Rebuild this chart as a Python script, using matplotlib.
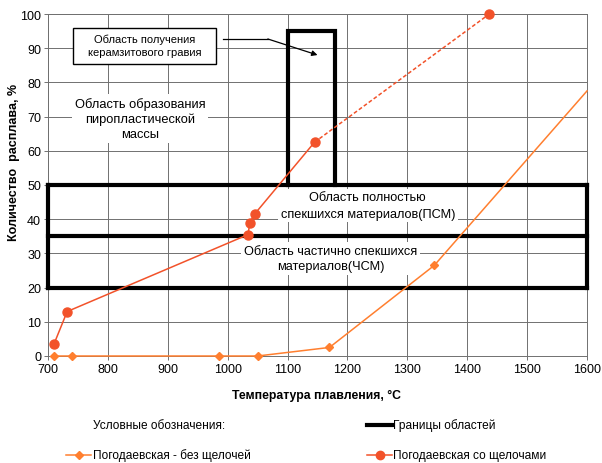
import matplotlib
matplotlib.use("Agg")
import matplotlib.pyplot as plt
from matplotlib.lines import Line2D
from matplotlib.patches import Rectangle

plt.rcParams['font.family'] = ['Liberation Sans', 'DejaVu Sans']

# Melt fraction vs. melting temperature
t_no_alkali = [710, 740, 985, 1050, 1170, 1345, 1600]
melt_no_alkali = [0, 0, 0, 0, 2.5, 26.5, 77.5]

t_alkali = [710, 732, 1034, 1037, 1045, 1145, 1437]
melt_alkali = [3.5, 13, 35.5, 39, 41.5, 62.5, 100]

# Region boundaries
band_t = [700, 1600]
band_levels = [20, 35, 50]
gravel_t = [1100, 1180]
gravel_top = 95

x_ticks = [700, 800, 900, 1000, 1100, 1200, 1300, 1400, 1500, 1600]
y_ticks = [0, 10, 20, 30, 40, 50, 60, 70, 80, 90, 100]

c_no = '#FF7F2F'
c_with = '#F2522A'
grid_c = '#707070'

W, H = 602, 464
fig = plt.figure(figsize=(W / 100, H / 100), dpi=100)
ax = fig.add_axes([48 / W, 1 - 357 / H, (587 - 48) / W, (357 - 15) / H])

ax.set_xlim(700, 1600)
ax.set_ylim(0, 100)
ax.set_xticks(x_ticks)
ax.set_yticks(y_ticks)
ax.tick_params(labelsize=9, length=3, color=grid_c, width=0.7, pad=2)
ax.grid(True, color=grid_c, lw=0.7, zorder=0)
ax.set_axisbelow(True)
for s in ax.spines.values():
    s.set_color(grid_c)
    s.set_linewidth(0.7)

ax.set_xlabel('Температура плавления, °С', fontsize=8.8, fontweight='bold')
ax.xaxis.set_label_coords(0.499, -0.095)
ax.set_ylabel('Количество  расплава, %', fontsize=9, fontweight='bold')
ax.yaxis.set_label_coords(-0.052, 0.57)

# Thick region borders
bk = dict(color='black', lw=3, solid_capstyle='projecting', zorder=4, clip_on=False)
for lvl in band_levels:
    ax.plot(band_t, [lvl, lvl], **bk)
ax.plot([band_t[0], band_t[0]], [band_levels[0], band_levels[-1]], **bk)
ax.plot([band_t[1], band_t[1]], [band_levels[0], band_levels[-1]], **bk)
ax.plot([gravel_t[0], gravel_t[0], gravel_t[1], gravel_t[1]],
        [band_levels[-1], gravel_top, gravel_top, band_levels[-1]],
        color='black', lw=3, solid_joinstyle='miter', zorder=4)

# Region captions
wb = dict(facecolor='white', edgecolor='none', pad=2)
ax.text(854, 69.5, 'Область образования\nпиропластической\nмассы', ha='center', va='center',
        fontsize=9.3, linespacing=1.3, bbox=wb, zorder=3)
ax.text(1234, 44, 'Область полностью\nспекшихся материалов(ПСМ)', ha='center', va='center',
        fontsize=9.2, linespacing=1.45, bbox=wb, zorder=3)
ax.text(1172, 28.5, 'Область частично спекшихся\nматериалов(ЧСМ)', ha='center', va='center',
        fontsize=9.2, linespacing=1.35, bbox=wb, zorder=3)

ax.add_patch(Rectangle((742, 85.4), 238.5, 10.5, facecolor='white', edgecolor='black',
                       lw=1, zorder=5))
ax.text(861, 90.8, 'Область получения\nкерамзитового гравия', ha='center', va='center',
        fontsize=8, linespacing=1.4, zorder=6)
ax.plot([993, 1067], [92.7, 92.7], color='black', lw=0.9, zorder=5)
ax.annotate('', xy=(1150, 88.0), xytext=(1067, 92.7),
            arrowprops=dict(arrowstyle='-|>', color='black', lw=0.9,
                            mutation_scale=8, shrinkA=0, shrinkB=0), zorder=5)

# Series
ax.plot(t_no_alkali, melt_no_alkali, color=c_no, lw=1.1, marker='D', ms=4,
        markevery=list(range(len(t_no_alkali) - 1)), zorder=6, clip_on=False)
ax.plot(t_alkali[:-1], melt_alkali[:-1], color=c_with, lw=1.1, zorder=6)
ax.plot(t_alkali[-2:], melt_alkali[-2:], color=c_with, lw=1.1, ls=(0, (2.5, 1.5)), zorder=6)
ax.plot(t_alkali, melt_alkali, ls='none', marker='o', ms=6.5, color=c_with,
        zorder=7, clip_on=False)

# Legend block
def fx(px):
    return px / W

def fy(py):
    return 1 - py / H

lf = 8.6
fig.text(fx(93), fy(426), 'Условные обозначения:', fontsize=lf, va='center')
fig.add_artist(Line2D([fx(367), fx(392)], [fy(426), fy(426)], color='black', lw=3))
fig.text(fx(393), fy(426), 'Границы областей', fontsize=lf, va='center')

row2 = 456
fig.add_artist(Line2D([fx(66), fx(91)], [fy(row2), fy(row2)], color=c_no, lw=1.1))
fig.add_artist(Line2D([fx(78.5)], [fy(row2)], color=c_no, marker='D', ms=4))
fig.text(fx(93), fy(row2), 'Погодаевская - без щелочей', fontsize=lf, va='center')

fig.add_artist(Line2D([fx(367), fx(392)], [fy(row2), fy(row2)], color=c_with, lw=1.1))
fig.add_artist(Line2D([fx(379.5)], [fy(row2)], color=c_with, marker='o', ms=6))
fig.text(fx(393), fy(row2), 'Погодаевская со щелочами', fontsize=lf, va='center')

fig.savefig('out.png', dpi=100, facecolor='white')
